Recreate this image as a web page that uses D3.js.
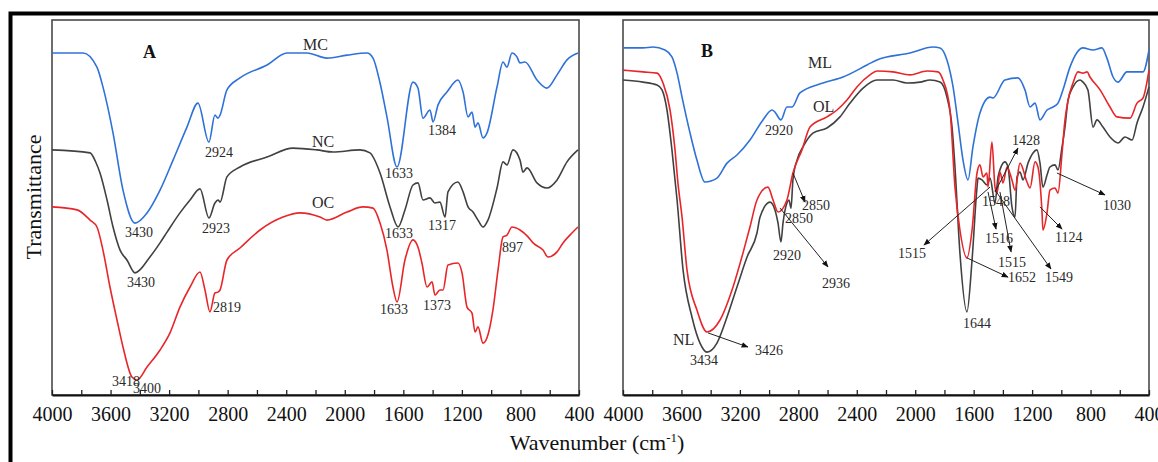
<!DOCTYPE html>
<head>
<meta charset="utf-8">
<title>FTIR spectra</title>
<script src="https://d3js.org/d3.v7.min.js"></script>
<style>
  body { margin: 0; background: #fff; }
  svg text { font-family: "Liberation Serif", "DejaVu Serif", serif; }
</style>
</head>
<body>
<div id="container"></div>
<script>
// ---------------- DATA: [wavenumber, transmittance (a.u.)] ----------------
var mcData = [[4000,114],[3788,114],[3693,109.3],[3652,102.7],[3583,87.3],[3515,68.3],[3433,57.3],[3351,60.7],[3262,68.3],[3173,78.3],[3078,89.3],[3003,97.3],[2928,84.3],[2887,93.3],[2866,92.3],[2852,93.3],[2805,101.7],[2716,105.7],[2531,110],[2395,114],[2258,114],[2122,112.3],[1985,113.3],[1848,114],[1807,112.3],[1759,104],[1712,92.7],[1643,76],[1534,104.3],[1500,102.3],[1466,92.3],[1418,95],[1397,91],[1363,96.7],[1302,101],[1227,105],[1192,101],[1158,92.7],[1131,94.3],[1110,89.3],[1090,90.7],[1056,85.7],[1029,87.3],[960,102.7],[919,111],[892,109.3],[858,114],[824,112.7],[803,110.7],[769,111],[687,105],[619,102.3],[550,106.7],[482,111.7],[407,114]];

var ncData = [[4000,81.7],[3740,80.7],[3700,77.5],[3672,74],[3624,65],[3583,56],[3535,48.3],[3488,45],[3433,40.7],[3331,46],[3262,50.7],[3214,54.3],[3126,60.7],[3057,65],[2989,68.7],[2928,59],[2887,64],[2866,65],[2852,64.3],[2805,72.7],[2716,76],[2531,79.3],[2354,82.3],[2190,81.7],[2081,81],[1896,81.7],[1828,80.7],[1759,74],[1691,62.7],[1636,56],[1589,61.7],[1534,70],[1500,70.7],[1466,65],[1418,65.7],[1384,64],[1350,64.3],[1315,59.3],[1295,67.7],[1227,71],[1192,67.7],[1158,62.7],[1124,61],[1090,58.3],[1056,56],[1022,58.3],[960,69],[919,77.7],[892,76.7],[851,81.7],[803,78.3],[783,74.3],[755,75.7],[687,70.7],[619,69],[550,71.7],[482,77.7],[407,81.7]];

var ocData = [[4000,62.7],[3829,61.7],[3740,58.3],[3693,56],[3652,48.3],[3604,36],[3556,25],[3515,16],[3454,6],[3419,5],[3351,9.3],[3262,15],[3194,20.7],[3126,29.3],[3057,36],[2989,41],[2955,35],[2921,27.7],[2887,34],[2866,34.3],[2852,35],[2805,45],[2716,49],[2579,55],[2422,59.3],[2306,60.7],[2169,59.3],[2121,58.3],[1985,61],[1876,62.7],[1807,62.3],[1759,57.3],[1712,48.3],[1671,36],[1643,31],[1589,45],[1534,51.7],[1500,49.3],[1473,44],[1438,36],[1404,37.7],[1384,33.3],[1350,35],[1329,35],[1295,43.3],[1227,44],[1199,40.7],[1165,29.3],[1131,27.3],[1110,21],[1090,22.7],[1056,17.3],[1029,19],[988,28.3],[953,41.7],[919,52.7],[892,53.3],[858,56],[803,55],[748,52.7],[714,50.7],[646,48.3],[612,46],[550,47.7],[509,50.7],[448,54],[407,56]];

var mlData = [[4000,115.7],[3863,115.7],[3795,116],[3713,115],[3665,112.7],[3630,107.3],[3596,99.3],[3541,87.3],[3494,78.3],[3439,71],[3357,72.3],[3288,77.3],[3220,80],[3131,85],[3042,91.7],[2980,95],[2960,94.3],[2919,91.7],[2878,96],[2843,96],[2789,100.7],[2631,104],[2494,106],[2330,110],[2262,111.7],[2036,114],[1878,116],[1830,115.7],[1783,111.7],[1741,102.7],[1707,90.7],[1673,78.3],[1639,71.7],[1605,82.7],[1557,94],[1488,99.3],[1468,99],[1386,105],[1297,105.7],[1249,101.7],[1214,96],[1180,97.3],[1146,91.7],[1098,95],[1057,96],[1023,97.3],[989,101.7],[941,109.3],[852,115.7],[783,115],[722,115.7],[688,112.3],[646,106],[612,104.3],[551,107.7],[441,107.7],[400,115]];

var olData = [[4000,108.3],[3863,107.7],[3767,107.3],[3726,104],[3678,95],[3644,81.7],[3624,70.7],[3596,59.3],[3562,41.7],[3494,28.3],[3425,21],[3336,25],[3247,36],[3179,47.3],[3131,56],[3083,65],[3008,69.3],[2973,65],[2939,61],[2878,65],[2837,74],[2775,81.7],[2720,89.3],[2604,92.7],[2535,95],[2467,98.3],[2399,102.7],[2310,106.7],[2262,108],[2152,107.7],[2036,106.7],[1919,108],[1844,107.7],[1810,105],[1762,95],[1728,69.3],[1694,55],[1646,45.7],[1611,55],[1577,74],[1557,76.7],[1536,72.7],[1509,74],[1502,69.3],[1475,84.3],[1454,69.3],[1440,67.3],[1420,74.3],[1399,70.7],[1372,76],[1338,71.7],[1317,68.3],[1283,77.3],[1235,71],[1214,69],[1180,77.7],[1160,76],[1132,60.7],[1126,55],[1098,60.7],[1078,68.3],[1043,69],[1023,67.3],[995,80.7],[975,91.7],[954,98.3],[920,104],[886,107.7],[852,107.3],[824,107.7],[804,106],[735,101.7],[667,96],[619,92.7],[530,92.3],[482,97.3],[441,99],[400,108.3]];

var nlData = [[4000,105],[3863,104.3],[3767,103.3],[3733,101.7],[3699,95],[3665,81.7],[3630,65],[3589,41.7],[3528,26],[3473,17.3],[3425,14.3],[3357,17.3],[3288,26],[3220,36],[3151,46],[3083,54],[3062,59.3],[2994,64.3],[2960,61.7],[2939,57.3],[2919,51],[2905,57.3],[2878,64],[2864,65],[2850,62.3],[2837,71.7],[2809,78.3],[2768,82.7],[2700,87.3],[2604,89],[2515,92.7],[2446,97.3],[2357,102.3],[2262,105],[2152,105],[2056,104],[1967,104.3],[1899,105],[1830,104.3],[1783,99.3],[1748,89.3],[1728,76],[1694,47.3],[1646,27.7],[1611,45],[1577,69.3],[1570,72.3],[1543,71.7],[1509,70],[1488,72.3],[1454,64],[1433,72.7],[1386,77.7],[1365,76],[1338,62.7],[1317,59.3],[1303,72.7],[1283,74.3],[1262,71.7],[1228,77.3],[1194,80.7],[1167,81.7],[1146,77.3],[1126,69.3],[1098,73.3],[1078,76],[1043,76.7],[1023,75],[995,82.7],[975,89.3],[954,98.3],[920,102.7],[872,105],[852,104.3],[818,101.7],[783,89.3],[756,91.7],[715,89.3],[667,86],[612,84],[564,86],[516,85],[482,90.7],[441,96],[400,102.7]];

var tickValues = d3.range(4000, 399, -200);

// peak labels: [text, wavenumber, transmittance]
var labelsA = [["MC",2285,115],["NC",2224,82.7],["OC",2224,62.3],["2924",2955,79.3],["3430",3501,52.7],["2923",2975,54],["3430",3488,36],["2819",2900,27.7],["3418",3590,3],["3400",3447,0.7],["1633",1725,72.3],["1384",1432,86.7],["1633",1725,52.3],["1317",1432,55],["897",926,47.7],["1633",1759,27],["1373",1466,28.3]];
var labelsB = [["ML",2734,109],["OL",2700,94.3],["2920",3028,86.7],["2850",2775,61.7],["2850",2891,57.3],["2920",2973,45],["2936",2638,35.7],["NL",3658,16.7],["3434",3541,10],["3426",3097,13.3],["1515",2118,45.7],["1428",1338,83.3],["1548",1543,63],["1516",1522,50.7],["1515",1434,42.7],["1652",1365,37.7],["1549",1112,37.7],["1124",1043,51],["1030",715,61.7],["1644",1673,22.3]];
// arrows: [fromW, fromT, toW, toT]
var arrowsB = [[2837,74,2754,64.3],[2925,62.3,2597,42.7],[3418,20.7,3145,16],[1488,69.3,1940,50],[1454,67.7,1297,82.3],[1502,67.7,1447,55.3],[1420,67.7,1344,47.7],[1646,45.7,1365,39.3],[1454,68.3,1071,42],[1146,62.7,995,55.3],[1030,74,701,66.7]];

var panels = [
  { name: "A", left: 52, right: 579, series: [[mcData,"#2e72d8"],[ncData,"#414141"],[ocData,"#e8262a"]], labels: labelsA, arrows: [] },
  { name: "B", left: 623, right: 1149, series: [[mlData,"#2e72d8"],[nlData,"#414141"],[olData,"#e8262a"]], labels: labelsB, arrows: arrowsB }
];

var plotTop = 20, plotBottom = 395;

// ---------------- DRAW ----------------
var svg = d3.select("#container").append("svg")
  .attr("width", 1158).attr("height", 462);

svg.append("rect").attr("width", 1158).attr("height", 462).attr("fill", "#fff");

// outer thick frame
svg.append("rect")
  .attr("x", 10.5).attr("y", 13.5).attr("width", 1200).attr("height", 500)
  .attr("fill", "none").attr("stroke", "#000").attr("stroke-width", 4);

var defs = svg.append("defs");
defs.append("marker")
  .attr("id", "arrow").attr("viewBox", "0 0 10 10")
  .attr("refX", 9).attr("refY", 5)
  .attr("markerWidth", 7).attr("markerHeight", 7)
  .attr("markerUnits", "userSpaceOnUse")
  .attr("orient", "auto")
  .append("path").attr("d", "M0,1 L10,5 L0,9 Z").attr("fill", "#111");

var yScale = d3.scaleLinear().domain([0, 125]).range([plotBottom, plotTop]);

panels.forEach(function (p) {
  var xScale = d3.scaleLinear().domain([4000, 400]).range([p.left, p.right]);
  var g = svg.append("g");

  // frame
  g.append("rect")
    .attr("x", p.left).attr("y", plotTop)
    .attr("width", p.right - p.left).attr("height", plotBottom - plotTop)
    .attr("fill", "none").attr("stroke", "#4a4a4a").attr("stroke-width", 1.6);

  // x axis
  var xaxis = d3.axisBottom(xScale)
    .tickValues(tickValues)
    .tickFormat(function (d) { return d % 400 === 0 ? d : ""; })
    .tickSizeInner(-5).tickSizeOuter(0).tickPadding(12);

  var ax = g.append("g")
    .attr("transform", "translate(0," + plotBottom + ")")
    .call(xaxis);
  ax.select(".domain").attr("stroke", "#111").attr("stroke-width", 2);
  ax.selectAll(".tick line").attr("stroke", "#222").attr("stroke-width", 1.3);
  ax.selectAll(".tick text")
    .attr("fill", "#111")
    .style("font-size", "20px")
    .style("font-family", "'Liberation Serif', serif");

  // spectra
  var line = d3.line()
    .x(function (d) { return xScale(d[0]); })
    .y(function (d) { return yScale(d[1]); })
    .curve(d3.curveMonotoneX);

  p.series.forEach(function (s) {
    var pts = s[0].slice().sort(function (a, b) { return b[0] - a[0]; });
    g.append("path")
      .attr("d", line(pts))
      .attr("fill", "none")
      .attr("stroke", s[1])
      .attr("stroke-width", 1.6)
      .attr("stroke-linejoin", "round");
  });

  // arrows
  g.selectAll(".arrow")
    .data(p.arrows)
    .enter().append("line")
    .attr("class", "arrow")
    .attr("x1", function (d) { return xScale(d[0]); })
    .attr("y1", function (d) { return yScale(d[1]); })
    .attr("x2", function (d) { return xScale(d[2]); })
    .attr("y2", function (d) { return yScale(d[3]); })
    .attr("stroke", "#222").attr("stroke-width", 1)
    .attr("marker-end", "url(#arrow)");

  // peak labels
  g.selectAll(".peak")
    .data(p.labels)
    .enter().append("text")
    .attr("class", "peak")
    .attr("x", function (d) { return xScale(d[1]); })
    .attr("y", function (d) { return yScale(d[2]); })
    .attr("fill", "#2a2a2a")
    .style("font-size", function (d) { return /[A-Z]/.test(d[0]) ? "16px" : "14px"; })
    .text(function (d) { return d[0]; });

  // panel letter
  g.append("text")
    .attr("x", p.name === "A" ? 143 : 701)
    .attr("y", p.name === "A" ? 58 : 57)
    .style("font-size", "18px").style("font-weight", "bold")
    .attr("fill", "#111")
    .text(p.name);
});

// axis titles
svg.append("text")
  .attr("transform", "translate(41,197) rotate(-90)")
  .attr("text-anchor", "middle")
  .style("font-size", "22px").attr("fill", "#111")
  .text("Transmittance");

var xt = svg.append("text")
  .attr("x", 597).attr("y", 450)
  .attr("text-anchor", "middle")
  .style("font-size", "22px").attr("fill", "#111");
xt.append("tspan").text("Wavenumber (cm");
xt.append("tspan").attr("dy", -8).style("font-size", "13px").text("-1");
xt.append("tspan").attr("dy", 8).text(")");
</script>
</body>
